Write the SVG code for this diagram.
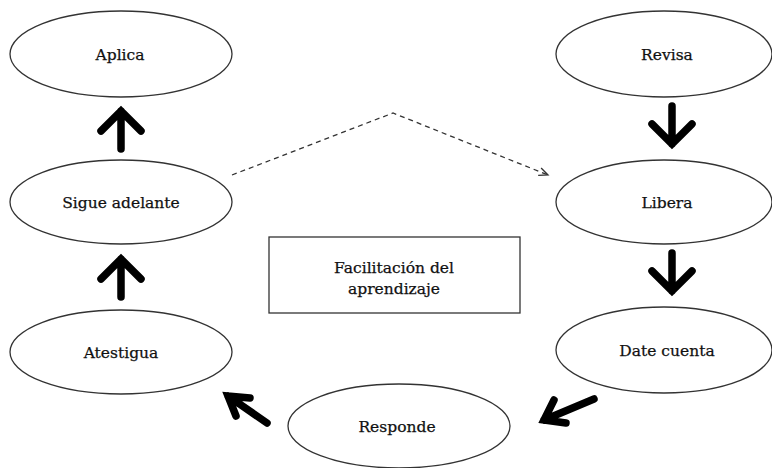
<svg xmlns="http://www.w3.org/2000/svg" width="772" height="468" viewBox="0 0 772 468">
<style>
.n ellipse{fill:#fff;stroke:#333;stroke-width:1.3}
.t{font-family:"DejaVu Serif","Liberation Serif",serif;font-size:15.5px;fill:#111;stroke:#111;stroke-width:0.25;text-anchor:middle}
.big{fill:none;stroke:#000;stroke-width:7.5;stroke-linejoin:miter;stroke-linecap:round}
.dash{fill:none;stroke:#333;stroke-width:1.3;stroke-dasharray:5,4}
</style>
<defs>
<marker id="open" markerWidth="12" markerHeight="10" refX="10" refY="5" orient="auto" markerUnits="userSpaceOnUse">
<path d="M1,1 L10,5 L1,9" fill="none" stroke="#333" stroke-width="1.3"/>
</marker>
</defs>
<rect width="772" height="468" fill="#fff"/>
<g id="aplica" class="n"><ellipse cx="121" cy="54" rx="111" ry="43"/><text class="t" x="120" y="60">Aplica</text></g>
<g id="sigue" class="n"><ellipse cx="121" cy="202" rx="111" ry="42"/><text class="t" x="121" y="208">Sigue adelante</text></g>
<g id="atestigua" class="n"><ellipse cx="121" cy="352" rx="111" ry="42"/><text class="t" x="121" y="358">Atestigua</text></g>
<g id="revisa" class="n"><ellipse cx="664" cy="54" rx="108" ry="43"/><text class="t" x="667" y="60">Revisa</text></g>
<g id="libera" class="n"><ellipse cx="664" cy="202" rx="108" ry="42"/><text class="t" x="667" y="208">Libera</text></g>
<g id="date" class="n"><ellipse cx="664" cy="350" rx="108" ry="43"/><text class="t" x="667" y="356">Date cuenta</text></g>
<g id="responde" class="n"><ellipse cx="399" cy="426" rx="111" ry="42"/><text class="t" x="397" y="432">Responde</text></g>
<g id="centro"><rect x="269" y="237" width="251" height="76" fill="#fff" stroke="#333" stroke-width="1.3"/><text class="t" x="394" y="273">Facilitación del</text><text class="t" x="394" y="294">aprendizaje</text></g>
<g id="connectors">
<path class="big" d="M121,149 V111 M101,131 L121,111 L141,131"/>
<path class="big" d="M121,297 V259 M101,279 L121,259 L141,279"/>
<path class="big" d="M672,106 V144 M652,124 L672,144 L692,124"/>
<path class="big" d="M672,253 V291 M652,271 L672,291 L692,271"/>
<path class="big" d="M594,399 L544,420 M554,400 L544,420 L566,423"/>
<path class="big" d="M267,423 L228,396 M250,398 L228,396 L236,416"/>
<path class="dash" d="M232,175 L393,113 L548,175" marker-end="url(#open)"/>
</g>
</svg>
